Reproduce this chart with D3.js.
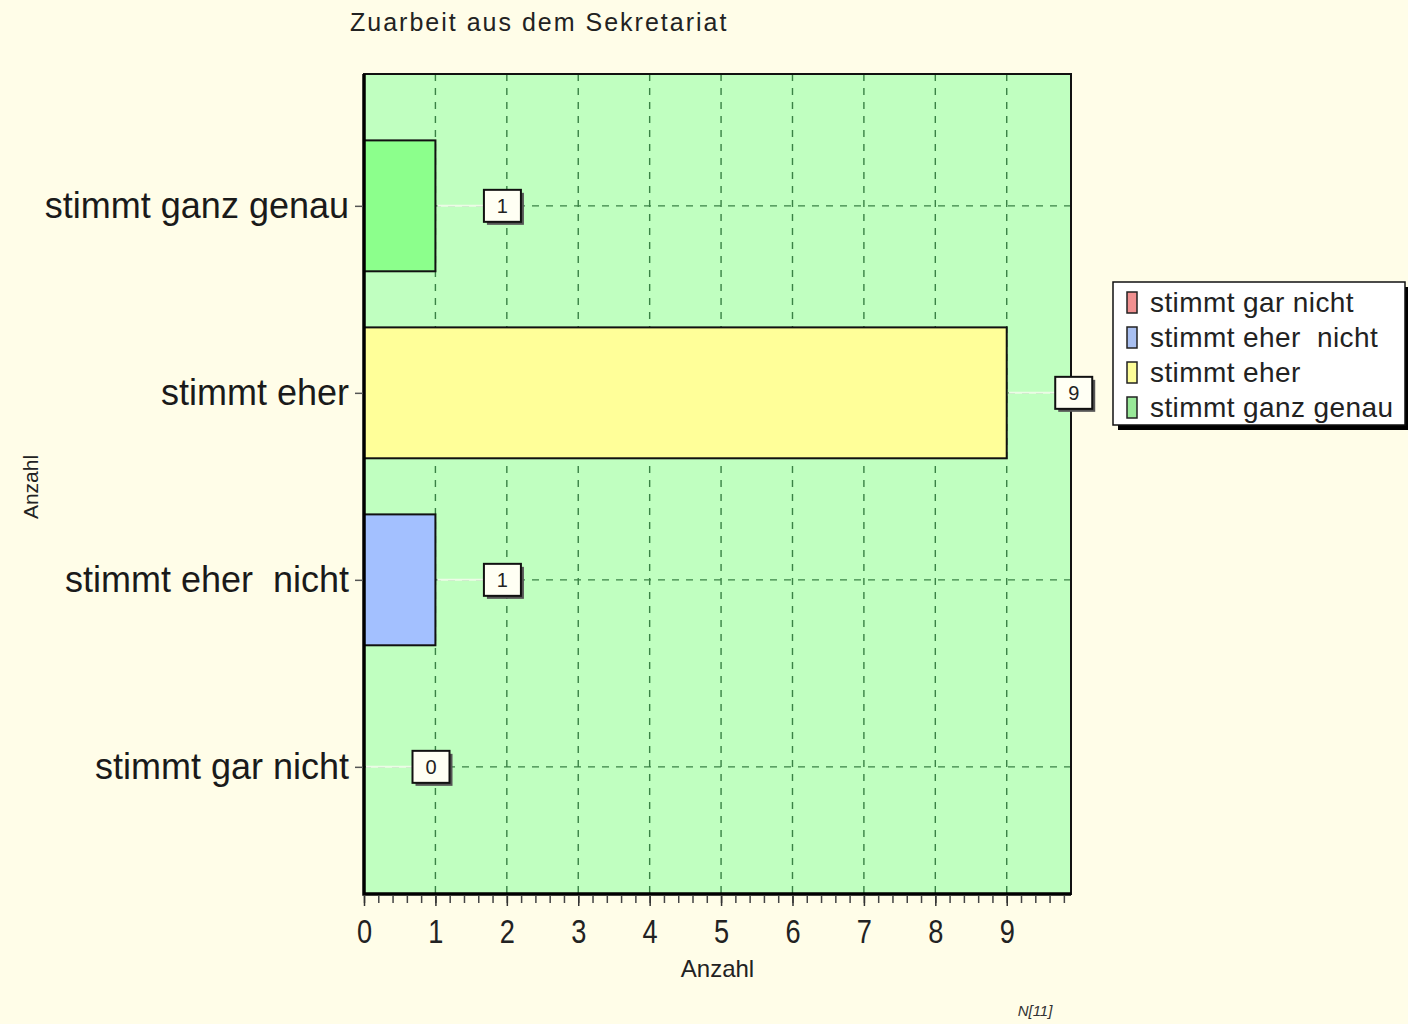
<!DOCTYPE html>
<html>
<head>
<meta charset="utf-8">
<script src="https://cdn.jsdelivr.net/npm/d3@7"></script>
<style>
  html, body { margin: 0; padding: 0; background: #fffde8; }
  svg text { font-family: "Liberation Sans", Arial, sans-serif; white-space: pre; }
</style>
</head>
<body>
<div id="chart"></div>
<script>
// Daten
const title = 'Zuarbeit aus dem Sekretariat';
const categories = ['stimmt gar nicht', 'stimmt eher  nicht', 'stimmt eher', 'stimmt ganz genau'];
const values = [0, 1, 9, 1];
const barColors = ['#f28b8b', '#a3c0ff', '#ffff99', '#8cff8c'];
const legendColors = ['#f09090', '#a8bff0', '#fdfd98', '#98e898'];
const xTicks = [0, 1, 2, 3, 4, 5, 6, 7, 8, 9];
const xMax = 9.9;
const axisLabel = 'Anzahl';
const nLabel = 'N[11]';

class BarChart {
  constructor(id) {
    this.id = id;
    this.width = 1408;
    this.height = 1024;
    this.plot = { left: 364, right: 1071, top: 74, bottom: 894 };
    this.svg = null;
    this.x = null;
    this.y = null;
  }

  init() {
    this.svg = d3.select(`#${this.id}`).append('svg')
      .attr('width', this.width)
      .attr('height', this.height)
      .style('display', 'block')
      .style('background-color', '#fffde8');
    this.x = d3.scaleLinear().domain([0, xMax]).range([this.plot.left, this.plot.right]);
    // Kategorien als Index, oben etwas mehr Platz als unten
    this.y = d3.scaleLinear().domain([-0.68, 3.705]).range([this.plot.bottom, this.plot.top]);
    return this;
  }

  render() {
    this.renderBackground();
    this.renderGrid();
    this.renderBars();
    this.renderFrame();
    this.renderAxes();
    this.renderLabels();
    this.renderTexts();
    this.renderLegend();
    return this;
  }

  renderBackground() {
    const p = this.plot;
    this.svg.append('rect')
      .attr('x', p.left).attr('y', p.top)
      .attr('width', p.right - p.left).attr('height', p.bottom - p.top)
      .attr('fill', '#c0ffc0');
  }

  renderGrid() {
    const p = this.plot;
    const g = this.svg.append('g')
      .attr('stroke', '#3a8245')
      .attr('stroke-width', 1.4)
      .attr('stroke-dasharray', '7,7');
    g.selectAll('line.v')
      .data(xTicks.filter(d => d > 0))
      .join('line')
      .attr('class', 'v')
      .attr('x1', d => this.x(d)).attr('x2', d => this.x(d))
      .attr('y1', p.top).attr('y2', p.bottom);
    g.selectAll('line.h')
      .data(categories)
      .join('line')
      .attr('class', 'h')
      .attr('x1', p.left).attr('x2', p.right)
      .attr('y1', (d, i) => this.y(i)).attr('y2', (d, i) => this.y(i));
  }

  renderBars() {
    const bh = (this.y(0) - this.y(1)) * 0.7;
    this.svg.append('g')
      .selectAll('rect')
      .data(values.map((v, i) => ({ v, i })).filter(d => d.v > 0))
      .join('rect')
      .attr('x', this.x(0))
      .attr('y', d => this.y(d.i) - bh / 2)
      .attr('width', d => this.x(d.v) - this.x(0))
      .attr('height', bh)
      .attr('fill', d => barColors[d.i])
      .attr('stroke', '#111')
      .attr('stroke-width', 2);
  }

  renderLabels() {
    const off = 67;
    const bw = 37, bh = 32;
    const g = this.svg.append('g');
    const items = values.map((v, i) => ({ v, i }));
    // Verbindungslinie
    g.selectAll('line')
      .data(items)
      .join('line')
      .attr('x1', d => this.x(d.v) + 2).attr('x2', d => this.x(d.v) + off - bw / 2)
      .attr('y1', d => this.y(d.i)).attr('y2', d => this.y(d.i))
      .attr('stroke', '#ecfbe6')
      .attr('stroke-width', 2);
    const box = g.selectAll('g.box')
      .data(items)
      .join('g')
      .attr('class', 'box')
      .attr('transform', d => `translate(${this.x(d.v) + off},${this.y(d.i)})`);
    box.append('rect')
      .attr('x', -bw / 2 + 3).attr('y', -bh / 2 + 3)
      .attr('width', bw).attr('height', bh)
      .attr('fill', '#555');
    box.append('rect')
      .attr('x', -bw / 2).attr('y', -bh / 2)
      .attr('width', bw).attr('height', bh)
      .attr('fill', '#fffff4')
      .attr('stroke', '#111')
      .attr('stroke-width', 2);
    box.append('text')
      .attr('text-anchor', 'middle')
      .attr('dy', '0.36em')
      .attr('font-size', 20)
      .attr('fill', '#222')
      .text(d => d.v);
  }

  renderFrame() {
    const p = this.plot;
    this.svg.append('rect')
      .attr('x', p.left).attr('y', p.top)
      .attr('width', p.right - p.left).attr('height', p.bottom - p.top)
      .attr('fill', 'none')
      .attr('stroke', '#111')
      .attr('stroke-width', 2);
    // linke und untere Achse dicker
    this.svg.append('path')
      .attr('d', `M${p.left},${p.top}V${p.bottom}H${p.right}`)
      .attr('fill', 'none')
      .attr('stroke', '#000')
      .attr('stroke-width', 3.5);
  }

  renderAxes() {
    const p = this.plot;
    const minor = d3.range(0, xMax + 0.001, 0.2);
    const xAxis = this.svg.append('g')
      .attr('transform', `translate(0,${p.bottom + 2})`)
      .call(d3.axisBottom(this.x).tickValues(minor).tickSize(7).tickFormat(''));
    xAxis.select('.domain').remove();
    xAxis.selectAll('.tick line').attr('stroke', '#444').attr('stroke-width', 1.5);

    const xMajor = this.svg.append('g')
      .attr('transform', `translate(0,${p.bottom + 2})`)
      .call(d3.axisBottom(this.x).tickValues(xTicks).tickSize(10).tickPadding(13));
    xMajor.select('.domain').remove();
    xMajor.selectAll('.tick line').attr('stroke', '#333').attr('stroke-width', 1.5);
    xMajor.selectAll('.tick text')
      .attr('font-size', 34)
      .attr('fill', '#222')
      .attr('font-family', '"Liberation Sans", Arial, sans-serif')
      .style('transform', 'scaleX(0.8)');

    const yAxis = this.svg.append('g')
      .attr('transform', `translate(${p.left - 1},0)`)
      .call(d3.axisLeft(this.y)
        .tickValues(categories.map((d, i) => i))
        .tickSize(8)
        .tickPadding(6)
        .tickFormat(i => categories[i]));
    yAxis.select('.domain').remove();
    yAxis.selectAll('.tick line').attr('stroke', '#555').attr('stroke-width', 1.5);
    yAxis.selectAll('.tick text')
      .attr('font-size', 36)
      .attr('fill', '#1a1a1a')
      .attr('font-family', '"Liberation Sans", Arial, sans-serif');
  }

  renderTexts() {
    this.svg.append('text')
      .attr('x', 350).attr('y', 31)
      .attr('font-size', 25)
      .attr('letter-spacing', 2)
      .attr('fill', '#222')
      .text(title);
    this.svg.append('text')
      .attr('x', (this.plot.left + this.plot.right) / 2).attr('y', 977)
      .attr('text-anchor', 'middle')
      .attr('font-size', 24)
      .attr('fill', '#222')
      .text(axisLabel);
    this.svg.append('text')
      .attr('transform', 'translate(38,487) rotate(-90)')
      .attr('text-anchor', 'middle')
      .attr('font-size', 21)
      .attr('fill', '#222')
      .text(axisLabel);
    this.svg.append('text')
      .attr('x', 1035).attr('y', 1016)
      .attr('text-anchor', 'middle')
      .attr('font-size', 15)
      .attr('font-style', 'italic')
      .attr('fill', '#333')
      .text(nLabel);
  }

  renderLegend() {
    const lx = 1113, ly = 282, lw = 292, lh = 143;
    const g = this.svg.append('g');
    g.append('rect')
      .attr('x', lx + 5).attr('y', ly + 5)
      .attr('width', lw).attr('height', lh)
      .attr('fill', '#000');
    g.append('rect')
      .attr('x', lx).attr('y', ly)
      .attr('width', lw).attr('height', lh)
      .attr('fill', '#fff')
      .attr('stroke', '#111')
      .attr('stroke-width', 1.5);
    const item = g.selectAll('g.item')
      .data(categories)
      .join('g')
      .attr('class', 'item')
      .attr('transform', (d, i) => `translate(${lx},${ly + 20 + i * 35})`);
    item.append('rect')
      .attr('x', 14).attr('y', -10)
      .attr('width', 10).attr('height', 21)
      .attr('fill', (d, i) => legendColors[i])
      .attr('stroke', '#222')
      .attr('stroke-width', 1.5);
    item.append('text')
      .attr('x', 37)
      .attr('dy', '0.36em')
      .attr('font-size', 28)
      .attr('letter-spacing', 0.4)
      .attr('fill', '#222')
      .text(d => d);
  }
}

new BarChart('chart').init().render();
</script>
</body>
</html>
